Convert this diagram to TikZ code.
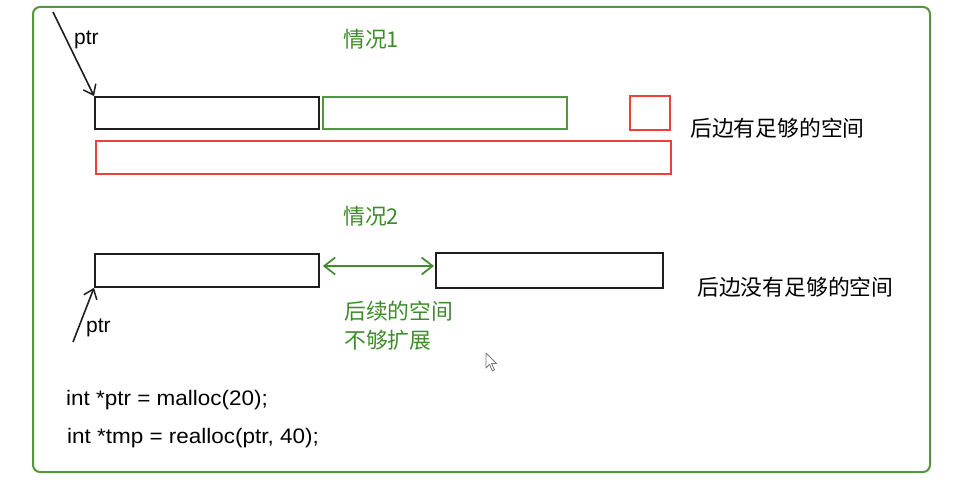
\documentclass[tikz,border=0pt]{standalone}
\usepackage{fontspec}
\setmainfont{Liberation Sans}
\newfontfamily\cjk{Noto Sans CJK SC}
\newfontfamily\codefont{Liberation Sans}[FakeStretch=1.07]
\usetikzlibrary{arrows.meta}
\definecolor{framegreen}{RGB}{82,150,62}
\definecolor{textgreen}{RGB}{62,140,44}
\definecolor{boxred}{RGB}{236,64,56}
\definecolor{boxblack}{RGB}{30,30,30}
\definecolor{cursorgray}{RGB}{120,120,120}
\begin{document}
\begin{tikzpicture}[x=1pt,y=-1pt,
  block/.style={draw=boxblack,line width=1.8pt,inner sep=0pt,anchor=north west},
  greenblock/.style={block,draw=framegreen},
  redblock/.style={block,draw=boxred,line width=1.6pt},
  label/.style={inner sep=0pt,anchor=west,font=\fontsize{21pt}{25pt}\selectfont},
  codeline/.style={inner sep=0pt,anchor=west,font=\codefont\fontsize{21pt}{25pt}\selectfont},
  cnlabel/.style={inner sep=0pt,anchor=west,font=\cjk\fontsize{21.8pt}{26pt}\selectfont},
  pointer/.style={draw=boxblack,line width=1.6pt,-{Straight Barb[length=9pt,width=14pt,line width=1.5pt]}},
  gap/.style={draw=textgreen,line width=1.6pt,{Straight Barb[length=11pt,width=17pt,line width=1.7pt]}-{Straight Barb[length=11pt,width=17pt,line width=1.7pt]}}
]
\useasboundingbox (0,0) rectangle (971,486);
\fill[white] (0,0) rectangle (971,486);

% outer frame
\draw[framegreen,line width=2pt,rounded corners=7pt] (33,7) rectangle (930,472);

% case 1: block grows in place
\node[cnlabel,text=textgreen] (c1) at (343,39) {情况1};
\node[block,minimum width=224pt,minimum height=32pt] (a1) at (94,96) {};
\node[greenblock,minimum width=244pt,minimum height=32pt] (g1) at (322,96) {};
\node[redblock,minimum width=40pt,minimum height=34pt] (r1) at (629,95) {};
\node[redblock,minimum width=575pt,minimum height=33pt] (r2) at (95,140) {};
\node[cnlabel] (t1) at (690,128) {后边有足够的空间};
\node[label] (p1) at (74,40) {ptr};
\coordinate (p1start) at (53,12);
\draw[pointer] (p1start) -- (a1.north west);

% case 2: no room behind the block
\node[cnlabel,text=textgreen] (c2) at (343,216) {情况2};
\node[block,minimum width=224pt,minimum height=33pt] (a2) at (94,253) {};
\node[block,minimum width=227pt,minimum height=35pt] (b2) at (435,252) {};
\draw[gap] ([xshift=3pt]a2.east |- 0,266) -- ([xshift=-1pt]b2.west |- 0,266);
\node[cnlabel,text=textgreen,align=left,font=\cjk\fontsize{21.8pt}{29pt}\selectfont] (t3) at (344,326) {后续的空间\\不够扩展};
\node[cnlabel] (t2) at (697,287) {后边没有足够的空间};
\node[label] (p2) at (86,328) {ptr};
\coordinate (p2start) at (73,342);
\draw[pointer] (p2start) -- (a2.south west);

% code lines
\node[codeline] (code1) at (66,400) {int *ptr = malloc(20);};
\node[codeline] (code2) at (67,438) {int *tmp = realloc(ptr, 40);};

% mouse cursor
\draw[cursorgray,line width=0.8pt,fill=white,line join=round]
  (486,353) -- (486,368) -- (489.5,364.5) -- (492.5,371) -- (494.5,370) -- (491.5,363.5) -- (496.5,363.5) -- cycle;
\end{tikzpicture}
\end{document}
